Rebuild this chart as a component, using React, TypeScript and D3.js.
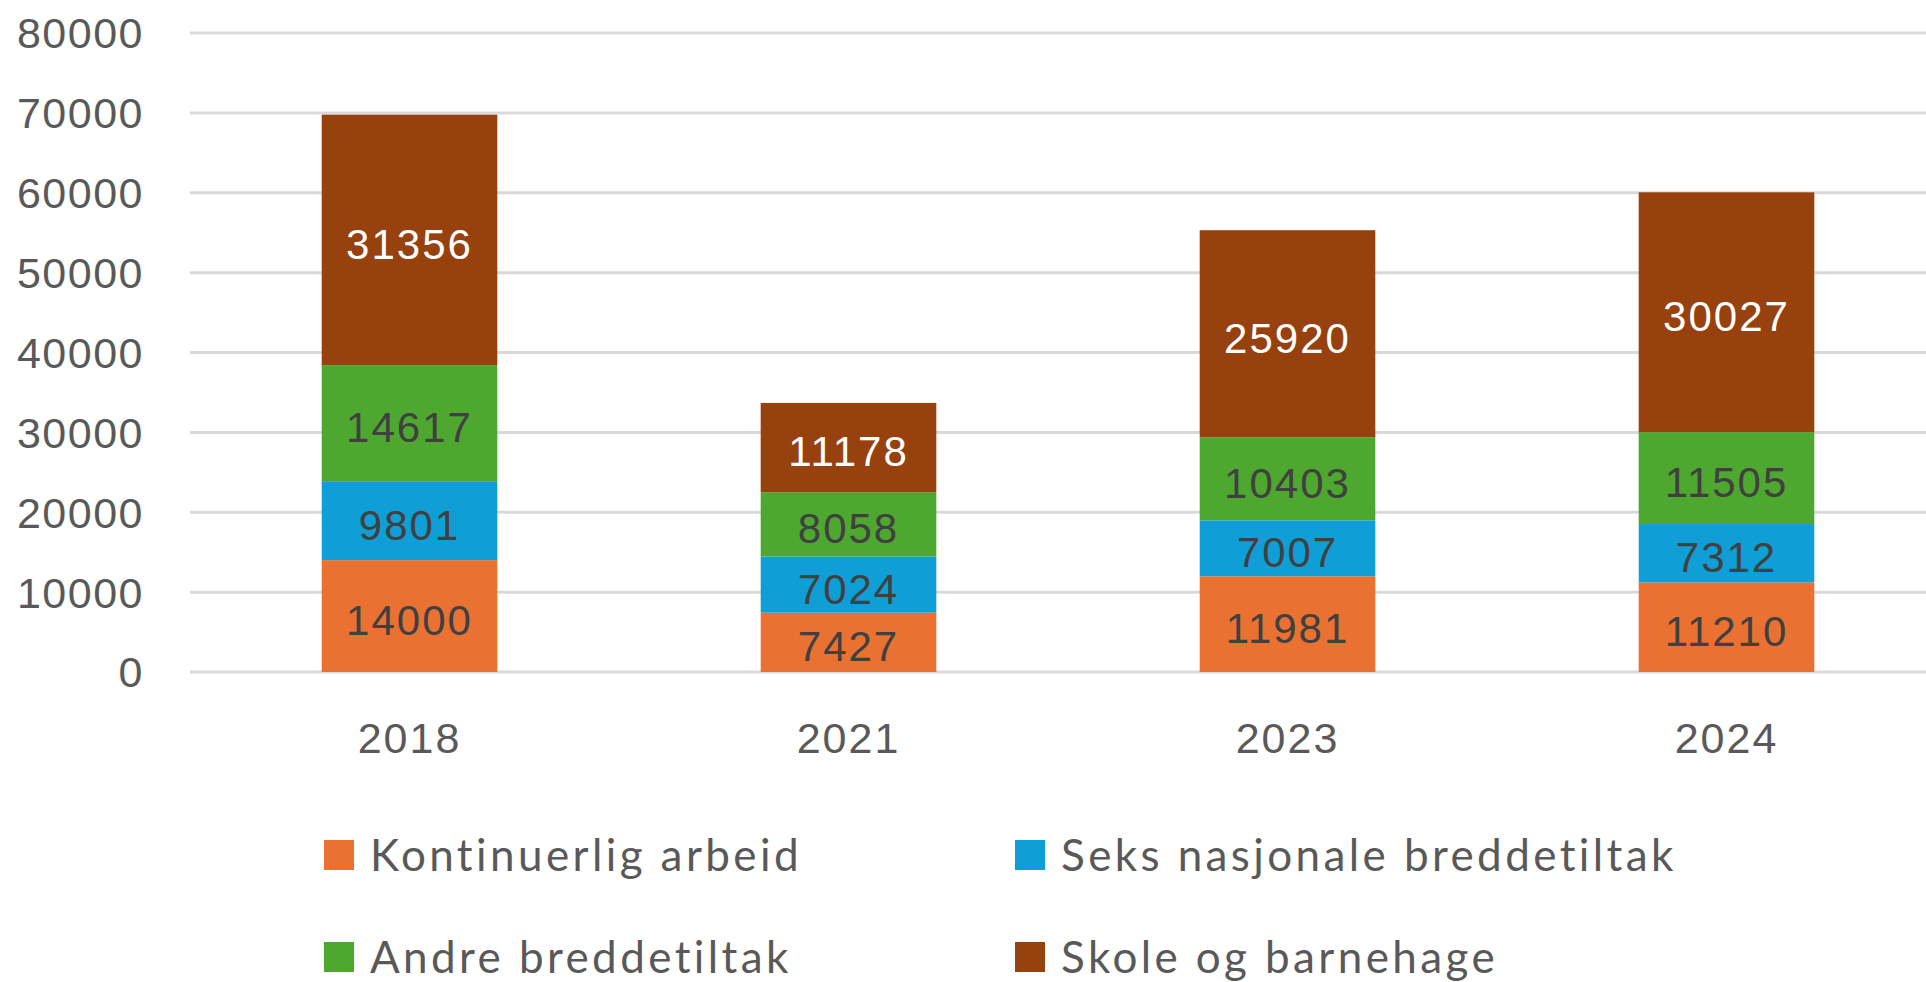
import { useMemo } from 'react';
import * as d3 from 'd3';

const years = ['2018', '2021', '2023', '2024'];
const seriesNames = [
  'Kontinuerlig arbeid',
  'Seks nasjonale breddetiltak',
  'Andre breddetiltak',
  'Skole og barnehage',
];
const kontinuerlig = [14000, 7427, 11981, 11210];
const seksNasjonale = [9801, 7024, 7007, 7312];
const andreBredde = [14617, 8058, 10403, 11505];
const skoleBarnehage = [31356, 11178, 25920, 30027];
const yTicks = [0, 10000, 20000, 30000, 40000, 50000, 60000, 70000, 80000];

const colors = ['#E97132', '#0F9ED5', '#4EA72E', '#97410F'];
const labelColors = ['#404040', '#404040', '#404040', '#ffffff'];

const W = 1926;
const H = 982;

export default function App() {
  const rows = useMemo(
    () =>
      years.map((year, i) => ({
        year,
        s0: kontinuerlig[i],
        s1: seksNasjonale[i],
        s2: andreBredde[i],
        s3: skoleBarnehage[i],
      })),
    []
  );

  const stacked = useMemo(
    () => d3.stack<any>().keys(['s0', 's1', 's2', 's3'])(rows),
    [rows]
  );

  const x = d3
    .scaleBand()
    .domain(years)
    .range([190, 1946])
    .paddingInner(0.6)
    .paddingOuter(0.3);

  const y = d3.scaleLinear().domain([0, 80000]).range([672, 33]);

  const numFont = '"Liberation Sans", Arial, sans-serif';

  return (
    <svg
      width={W}
      height={H}
      style={{ position: 'absolute', left: 0, top: 0, background: '#fff' }}
    >
      {/* gridlines */}
      <g>
        {yTicks.map((t) => (
          <line
            key={t}
            x1={190}
            x2={W}
            y1={y(t)}
            y2={y(t)}
            stroke="#d9d9d9"
            strokeWidth={3}
          />
        ))}
      </g>

      {/* y labels */}
      <g
        fontFamily={numFont}
        fontSize={43}
        letterSpacing={1.5}
        fill="#595959"
        textAnchor="end"
      >
        {yTicks.map((t) => (
          <text key={t} x={144} y={y(t)} dy="0.36em">
            {t}
          </text>
        ))}
      </g>

      {/* bars */}
      {stacked.map((layer, si) => (
        <g key={layer.key} fill={colors[si]}>
          {layer.map((d, i) => (
            <rect
              key={years[i]}
              x={x(years[i])}
              width={x.bandwidth()}
              y={y(d[1])}
              height={y(d[0]) - y(d[1])}
            />
          ))}
        </g>
      ))}

      {/* value labels */}
      {stacked.map((layer, si) => (
        <g
          key={`lbl-${layer.key}`}
          fontFamily={numFont}
          fontSize={42}
          letterSpacing={2}
          fill={labelColors[si]}
          textAnchor="middle"
        >
          {layer.map((d, i) => (
            <text
              key={years[i]}
              x={(x(years[i]) ?? 0) + x.bandwidth() / 2}
              y={y((d[0] + d[1]) / 2)}
              dy="0.45em"
            >
              {d[1] - d[0]}
            </text>
          ))}
        </g>
      ))}

      {/* x labels */}
      <g
        fontFamily={numFont}
        fontSize={43}
        letterSpacing={2}
        fill="#595959"
        textAnchor="middle"
      >
        {years.map((yr) => (
          <text key={yr} x={(x(yr) ?? 0) + x.bandwidth() / 2} y={753}>
            {yr}
          </text>
        ))}
      </g>

      {/* legend */}
      <g fontFamily="Lato, sans-serif" fontSize={44} letterSpacing={3.4} fill="#595959">
        {seriesNames.map((name, i) => {
          const col = i % 2;
          const row = Math.floor(i / 2);
          const lx = col === 0 ? 324 : 1015;
          const ly = row === 0 ? 855 : 957;
          return (
            <g key={name} transform={`translate(${lx}, ${ly})`}>
              <rect x={0} y={-15} width={30} height={30} fill={colors[i]} />
              <text x={46} y={0} dy="0.36em">
                {name}
              </text>
            </g>
          );
        })}
      </g>
    </svg>
  );
}
